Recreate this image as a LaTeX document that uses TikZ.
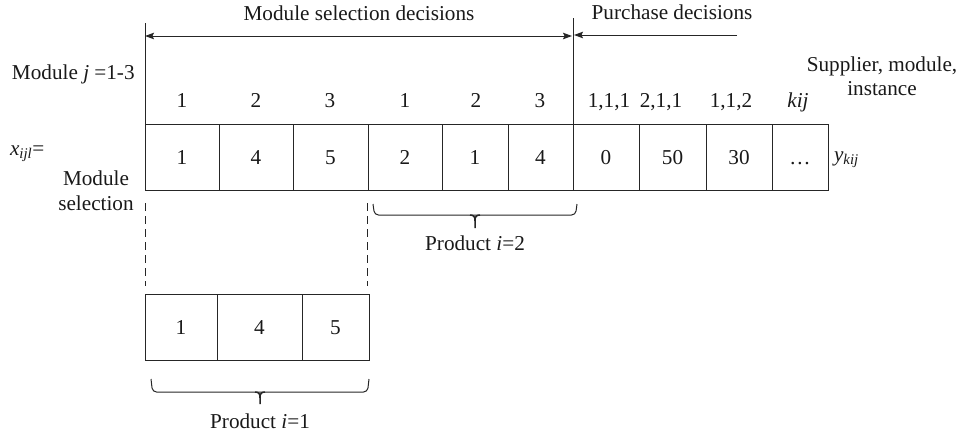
\documentclass[tikz,border=0pt]{standalone}
\usepackage{fontspec}
\setmainfont{Liberation Serif}
\usetikzlibrary{arrows.meta}
\begin{document}
\begin{tikzpicture}[x=1pt,y=-1pt,
  ink/.style={draw=black!85},
  every node/.style={inner sep=0pt, outer sep=0pt, text=black!90,
    font=\fontsize{21.2}{23}\selectfont},
  cell/.style={ink, line width=1pt, minimum height=66pt, anchor=north west,
    text height=14.3pt, text depth=0pt},
  lbl/.style={anchor=base},
  tip/.style={-{Stealth[length=9pt,width=6.5pt,inset=1.5pt]}},
  guide/.style={ink, line width=1pt},
  brace/.style={ink, line width=1pt, rounded corners=4pt},
  bracestub/.style={ink, line width=1.5pt}
]
\useasboundingbox (0,0) rectangle (960,434);

% ---- top row of cells: module selection (a) and purchase (p) parts
\node[cell, minimum width=74pt] (a1) at (145,124) {1};
\node[cell, minimum width=74pt] (a2) at (219,124) {4};
\node[cell, minimum width=75pt] (a3) at (293,124) {5};
\node[cell, minimum width=74pt] (a4) at (368,124) {2};
\node[cell, minimum width=66pt] (a5) at (442,124) {1};
\node[cell, minimum width=65pt] (a6) at (508,124) {4};
\node[cell, minimum width=66pt] (p1) at (573,124) {0};
\node[cell, minimum width=67pt] (p2) at (639,124) {50};
\node[cell, minimum width=66pt] (p3) at (706,124) {30};
\node[cell, minimum width=56pt] (p4) at (772,124) {\dots};

% ---- lower row: product 1
\node[cell, minimum width=72pt] (b1) at (145,294) {1};
\node[cell, minimum width=85pt] (b2) at (217,294) {4};
\node[cell, minimum width=67pt] (b3) at (302,294) {5};

% ---- column headers
\node[lbl] (h1) at (182,107) {1};
\node[lbl] (h2) at (256,107) {2};
\node[lbl] (h3) at (330,107) {3};
\node[lbl] (h4) at (405,107) {1};
\node[lbl] (h5) at (476,107) {2};
\node[lbl] (h6) at (540,107) {3};
\node[lbl] (k1) at (609,107) {1,1,1};
\node[lbl] (k2) at (661,107) {2,1,1};
\node[lbl] (k3) at (731,107) {1,1,2};
\node[lbl] (k4) at (798,107) {\textit{kij}};

% ---- side labels (base anchor sits on the last line of a multi-line node)
\node[lbl, anchor=base west] (modj) at (12,79) {Module \textit{j} =1-3};
\node[lbl, anchor=base west] (xv) at (10,155) {\textit{x}\textsubscript{\textit{ijl}}=};
\node[lbl, align=center, font=\fontsize{21.2}{25}\selectfont] (msel) at (96,210) {Module\\selection};
\node[lbl, anchor=base west] (yv) at (834,161) {\textit{y}\textsubscript{\textit{kij}}};
\node[lbl, align=center, font=\fontsize{21.2}{24}\selectfont] (smi) at (882,95) {Supplier, module,\\instance};

% ---- decision ranges
\node[lbl] (msd) at (359,20) {Module selection decisions};
\node[lbl] (pd) at (672,19) {Purchase decisions};
\coordinate (ltop) at (145,23);
\coordinate (mtop) at (573,18);
\coordinate (aL) at (145,36);
\coordinate (aM) at (572,36);
\coordinate (aP) at (574,35);
\coordinate (aR) at (737,35);
\draw[guide] (ltop) -- (a1.north west);
\draw[guide] (mtop) -- (p1.north west);
\draw[guide, {Stealth[length=9pt,width=6.5pt,inset=1.5pt]}-{Stealth[length=9pt,width=6.5pt,inset=1.5pt]}] (aL) -- (aM);
\draw[guide, tip] (aR) -- (aP);

% ---- dashed projection of product 1
\draw[guide, dash pattern=on 8pt off 5pt] ([yshift=-13pt]a1.south west) -- ([yshift=8pt]b1.north west);
\draw[guide, dash pattern=on 8pt off 5pt] ([yshift=-13pt,xshift=-1pt]a3.south east) -- ([yshift=8pt,xshift=-2pt]b3.north east);

% ---- brace under product 2
\draw[brace] (373,204) -- (374.5,215) -- (575.5,215) -- (577,204);
\draw[bracestub] (470,215) .. controls (474,215) and (475,217) .. (475,221) -- (475,228);
\draw[bracestub] (480,215) .. controls (476,215) and (475,217) .. (475,221);
\node[lbl] (pr2) at (475,250) {Product \textit{i}=2};

% ---- brace under product 1
\draw[brace] (151,379) -- (152.5,392) -- (367.5,392) -- (369,379);
\draw[bracestub] (255,392) .. controls (259,392) and (260,394) .. (260,398) -- (260,404);
\draw[bracestub] (265,392) .. controls (261,392) and (260,394) .. (260,398);
\node[lbl] (pr1) at (260,428) {Product \textit{i}=1};
\end{tikzpicture}
\end{document}
